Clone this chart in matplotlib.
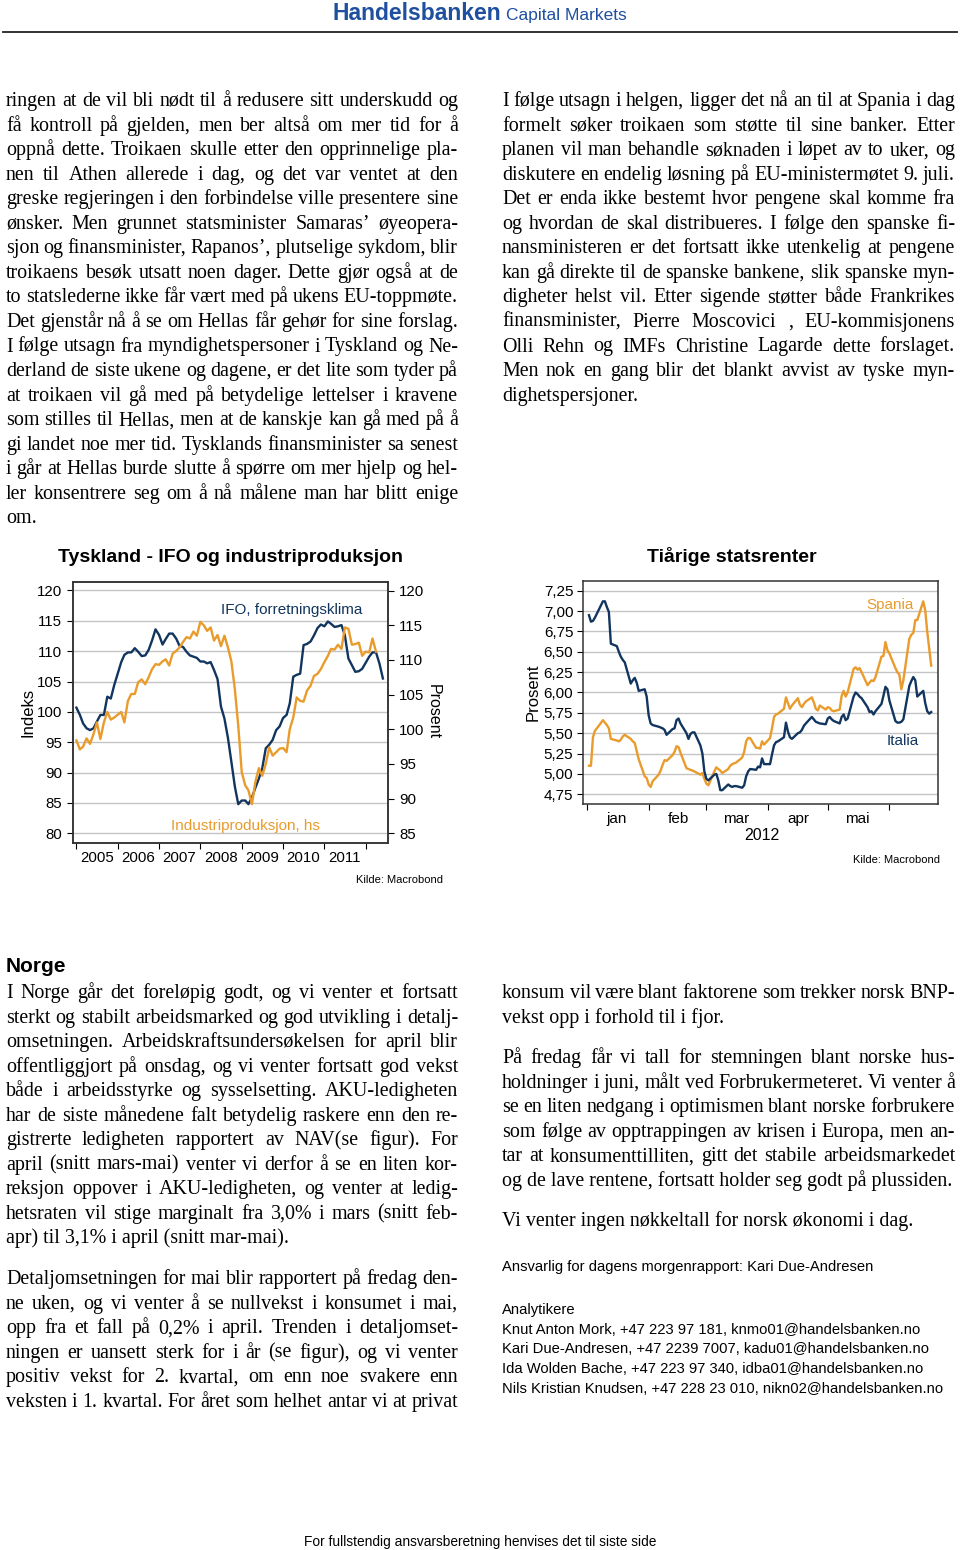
import matplotlib
matplotlib.use("Agg")
import matplotlib.pyplot as plt
from matplotlib.font_manager import FontProperties
from matplotlib.lines import Line2D
from matplotlib.ticker import NullFormatter, FixedLocator
import pandas as pd

W, H = 960, 1550
NAVY = "#11355f"
ORANGE = "#e99b2c"
GRID = "#c4c4c4"
SERIF = "Liberation Serif"
SANS = "Liberation Sans"
BODY = 14.4

plt.rcParams["font.family"] = SANS

# ---- chart 1: Tyskland, IFO (venstre akse) og industriproduksjon (hoyre akse), maanedlig fra jan 2005
ifo = [100.7, 99.5, 98.1, 97.3, 97.0, 97.3, 98.4, 99.5, 99.5, 102.5, 102.2, 104.4,
       106.3, 108.2, 109.4, 109.8, 109.8, 110.5, 109.9, 109.2, 109.3, 110.2, 111.8, 113.6,
       112.7, 111.1, 112.0, 112.9, 112.9, 112.1, 110.9, 110.7, 109.9, 109.3, 109.1, 108.9,
       108.3, 108.3, 108.0, 108.2, 106.9, 105.4, 100.9, 98.9, 95.7, 91.8, 87.7, 84.8,
       85.4, 85.4, 84.8, 85.9, 87.5, 89.0, 90.7, 94.0, 94.6, 95.4, 97.0, 97.6,
       99.0, 99.5, 101.4, 105.8, 106.1, 106.3, 111.0, 111.2, 111.6, 112.6, 113.8, 114.4,
       114.1, 114.9, 114.5, 114.0, 114.1, 114.3, 112.6, 108.8, 107.7, 106.6, 106.7, 107.1,
       108.1, 109.1, 109.8, 109.8, 108.0, 105.5]
industri = [98.4, 97.1, 97.5, 98.7, 97.9, 99.3, 101.0, 98.6, 101.0, 102.5, 101.4, 101.7,
            102.1, 102.5, 101.0, 104.1, 105.1, 105.1, 106.8, 107.2, 106.5, 107.5, 108.7, 109.4,
            109.3, 109.8, 110.1, 109.2, 110.9, 111.3, 111.8, 112.6, 113.3, 113.1, 114.1, 113.5,
            115.5, 115.0, 114.2, 114.7, 112.8, 113.6, 112.0, 113.5, 111.8, 109.8, 105.8, 100.5,
            93.8, 91.9, 91.2, 89.2, 92.4, 94.4, 93.3, 95.0, 97.4, 96.2, 96.7, 97.2,
            97.3, 96.7, 100.0, 101.7, 104.6, 104.1, 104.0, 105.6, 106.3, 107.7, 108.0, 108.7,
            109.7, 110.6, 111.6, 111.5, 112.2, 111.6, 114.7, 114.5, 112.2, 112.3, 112.5, 110.6,
            111.2, 111.1, 113.1, 111.2]
aar = ["2005", "2006", "2007", "2008", "2009", "2010", "2011"]
left_ticks = [80, 85, 90, 95, 100, 105, 110, 115, 120]
right_ticks = [85, 90, 95, 100, 105, 110, 115, 120]

# ---- chart 2: tiaarige statsrenter, virkedager 2. jan - 22. jun 2012
italia = [6.95, 6.87, 6.88, 6.92, 6.97,
          7.12, 7.12, 7.05, 6.99, 6.60,
          6.57, 6.50, 6.44, 6.40, 6.37,
          6.11, 6.15, 6.18, 6.12, 6.02,
          6.04, 5.95, 5.72, 5.62, 5.60,
          5.58, 5.57, 5.56, 5.54, 5.48,
          5.55, 5.56, 5.66, 5.68, 5.62,
          5.50, 5.43, 5.49, 5.51, 5.51,
          5.35, 5.25, 5.03, 4.94, 4.92,
          4.99, 5.00, 4.92, 4.80, 4.80,
          4.87, 4.85, 4.84, 4.85, 4.85,
          4.83, 4.86, 4.97, 5.03, 5.06,
          5.05, 5.09, 5.08, 5.19, 5.12,
          5.12, 5.24, 5.35, 5.39, 5.40,
          5.45, 5.63, 5.52, 5.45, 5.43,
          5.50, 5.51, 5.54, 5.59, 5.62,
          5.70, 5.67, 5.64, 5.63, 5.62,
          5.61, 5.68, 5.70, 5.67, 5.65,
          5.62, 5.70, 5.73, 5.66, 5.68,
          5.95, 6.00, 5.98, 5.95, 5.93,
          5.82, 5.76, 5.77, 5.73, 5.77,
          5.86, 5.96, 6.07, 6.04, 5.90,
          5.65, 5.63, 5.63, 5.64, 5.67,
          6.08, 6.14, 6.19, 6.15, 5.95,
          6.02, 5.87, 5.77, 5.74, 5.76]
spania = [5.10, 5.10, 5.45, 5.53, 5.56,
          5.66, 5.63, 5.60, 5.56, 5.43,
          5.41, 5.40, 5.42, 5.46, 5.48,
          5.43, 5.40, 5.38, 5.28, 5.18,
          4.97, 4.95, 4.87, 4.84, 4.91,
          4.99, 5.04, 5.11, 5.17, 5.16,
          5.23, 5.27, 5.34, 5.33, 5.26,
          5.07, 5.06, 5.05, 5.04, 5.03,
          4.99, 5.01, 4.94, 4.88, 4.86,
          5.03, 5.08, 5.06, 5.04, 5.01,
          5.06, 5.10, 5.12, 5.13, 5.14,
          5.20, 5.27, 5.40, 5.44, 5.44,
          5.32, 5.32, 5.31, 5.40, 5.36,
          5.44, 5.56, 5.70, 5.73, 5.74,
          5.80, 5.94, 5.87, 5.80, 5.84,
          5.93, 5.85, 5.82, 5.86, 5.89,
          5.94, 5.88, 5.80, 5.78, 5.84,
          5.79, 5.82, 5.81, 5.78, 5.77,
          5.79, 5.96, 6.02, 5.95, 6.00,
          6.29, 6.31, 6.28, 6.30, 6.25,
          6.09, 6.12, 6.15, 6.14, 6.19,
          6.44, 6.45, 6.62, 6.52, 6.48,
          6.30, 6.25, 6.22, 6.04, 6.15,
          6.66, 6.71, 6.73, 6.89, 6.89,
          7.12, 7.01, 6.75, 6.54, 6.33]
maaneder = ["jan", "feb", "mar", "apr", "mai"]
rente_ticks = [4.75, 5.00, 5.25, 5.50, 5.75, 6.00, 6.25, 6.50, 6.75, 7.00, 7.25]

# ---- tekst
left_top = [
    "ringen at de vil bli nødt til å redusere sitt underskudd og",
    "få kontroll på gjelden, men ber altså om mer tid for å",
    "oppnå dette. Troikaen skulle etter den opprinnelige pla-",
    "nen til Athen allerede i dag, og det var ventet at den",
    "greske regjeringen i den forbindelse ville presentere sine",
    "ønsker. Men grunnet statsminister Samaras’ øyeopera-",
    "sjon og finansminister, Rapanos’, plutselige sykdom, blir",
    "troikaens besøk utsatt noen dager.  Dette gjør også at de",
    "to statslederne ikke får vært med på ukens EU-toppmøte.",
    "Det gjenstår nå å se om Hellas får gehør for sine forslag.",
    "I følge utsagn fra myndighetspersoner i Tyskland og Ne-",
    "derland de siste ukene og dagene, er det lite som tyder på",
    "at troikaen vil gå med på betydelige lettelser i kravene",
    "som stilles til Hellas, men at de kanskje kan gå med på å",
    "gi landet noe mer tid. Tysklands finansminister sa senest",
    "i går at Hellas burde slutte å spørre om mer hjelp og hel-",
    "ler konsentrere seg om å nå målene man har blitt enige",
    "om.",
]
right_top = [
    "I følge utsagn i helgen, ligger det nå an til at Spania i dag",
    "formelt søker troikaen som støtte til sine banker. Etter",
    "planen vil man behandle søknaden i løpet av to uker, og",
    "diskutere en endelig løsning på EU-ministermøtet 9. juli.",
    "Det er enda ikke bestemt hvor pengene skal komme fra",
    "og hvordan de skal distribueres. I følge den spanske fi-",
    "nansministeren er det fortsatt ikke utenkelig at pengene",
    "kan gå direkte til de spanske bankene, slik spanske myn-",
    "digheter helst vil. Etter sigende støtter både Frankrikes",
    "finansminister, Pierre Moscovici , EU-kommisjonens",
    "Olli Rehn og IMFs Christine Lagarde dette forslaget.",
    "Men nok en gang blir det blankt avvist av tyske myn-",
    "dighetspersjoner.",
]
norge_1 = [
    "I Norge går det foreløpig godt, og vi venter et fortsatt",
    "sterkt og stabilt arbeidsmarked og god utvikling i detalj-",
    "omsetningen. Arbeidskraftsundersøkelsen for april blir",
    "offentliggjort på onsdag, og vi venter fortsatt god vekst",
    "både i arbeidsstyrke og sysselsetting. AKU-ledigheten",
    "har de siste månedene falt betydelig raskere enn den re-",
    "gistrerte ledigheten rapportert av NAV(se figur). For",
    "april (snitt mars-mai) venter vi derfor å se en liten kor-",
    "reksjon oppover i AKU-ledigheten, og venter at ledig-",
    "hetsraten vil stige marginalt fra 3,0% i mars (snitt feb-",
    "apr) til 3,1% i april (snitt mar-mai).",
]
norge_2 = [
    "Detaljomsetningen for mai blir rapportert på fredag den-",
    "ne uken, og vi venter å se nullvekst i konsumet i mai,",
    "opp fra et fall på 0,2% i april. Trenden i detaljomset-",
    "ningen er uansett sterk for i år (se figur), og vi venter",
    "positiv vekst for 2. kvartal, om enn noe svakere enn",
    "veksten i 1. kvartal. For året som helhet antar vi at privat",
]
right_1 = [
    "konsum vil være blant faktorene som trekker norsk BNP-",
    "vekst opp i forhold til i fjor.",
]
right_2 = [
    "På fredag får vi tall for stemningen blant norske hus-",
    "holdninger i juni, målt ved Forbrukermeteret. Vi venter å",
    "se en liten nedgang i optimismen blant norske forbrukere",
    "som følge av opptrappingen av krisen i Europa, men an-",
    "tar at konsumenttilliten, gitt det stabile arbeidsmarkedet",
    "og de lave rentene, fortsatt holder seg godt på plussiden.",
]
right_3 = ["Vi venter ingen nøkkeltall for norsk økonomi i dag."]
kontakt = [
    "Analytikere",
    "Knut Anton Mork, +47 223 97 181, knmo01@handelsbanken.no",
    "Kari Due-Andresen, +47 2239 7007, kadu01@handelsbanken.no",
    "Ida Wolden Bache, +47 223 97 340, idba01@handelsbanken.no",
    "Nils Kristian Knudsen, +47 228 23 010, nikn02@handelsbanken.no",
]

fig = plt.figure(figsize=(W / 100, H / 100), dpi=100)
renderer = fig.canvas.get_renderer()
body_fp = FontProperties(family=SERIF, size=BODY)


def fx(x):
    return x / W


def fy(y):
    return 1 - y / H


def put(x, y, s, size, family=SANS, **kw):
    return fig.text(fx(x), fy(y), s, fontsize=size, family=family, **kw)


def paragraph(lines, x0, y0, width, lh=24.55, last=True):
    # justert tekst: hvert ord plasseres for seg
    for k, line in enumerate(lines):
        y = y0 + k * lh
        words = line.split()
        if (last and k == len(lines) - 1) or len(words) < 2:
            put(x0, y, line, BODY, SERIF, va="baseline")
            continue
        ws = [renderer.get_text_width_height_descent(w, body_fp, ismath=False)[0] for w in words]
        gap = (width - sum(ws)) / (len(words) - 1)
        x = x0
        for w, ww in zip(words, ws):
            put(x, y, w, BODY, SERIF, va="baseline")
            x += ww + gap


# header
put(333, 20, "Handelsbanken", 16.5, weight="bold", color="#1f4f9f", va="baseline")
put(506, 20, "Capital Markets", 12.5, color="#1f4f9f", va="baseline")
fig.add_artist(Line2D([fx(3), fx(957)], [fy(32), fy(32)], color="#222222", lw=1.3))

paragraph(left_top, 6, 106, 452)
paragraph(right_top, 502, 106, 453)
put(6, 972, "Norge", 15, weight="bold", va="baseline")
paragraph(norge_1, 6, 998, 452)
paragraph(norge_2, 6, 1284, 452, last=False)
paragraph(right_1, 502, 998, 453)
paragraph(right_2, 502, 1063, 453)
paragraph(right_3, 502, 1226, 453)

put(502, 1271, "Ansvarlig for dagens morgenrapport: Kari Due-Andresen", 10.6, va="baseline")
for k, line in enumerate(kontakt):
    put(502, 1314 + k * 19.7, line, 10.6, va="baseline")
put(480, 1546, "For fullstendig ansvarsberetning henvises det til siste side", 9.9,
    ha="center", va="baseline")

# ---- chart 1
ifo_dates = pd.date_range("2005-01-01", periods=len(ifo), freq="MS")
ip_dates = pd.date_range("2005-01-01", periods=len(industri), freq="MS")

ax1 = fig.add_axes([fx(73), fy(843), (388 - 73) / W, (843 - 582) / H])
ax1.plot(ifo_dates, ifo, color=NAVY, lw=1.7)
ax1.set_ylim(78.4, 121.4)
ax1.set_yticks(left_ticks)
ax1.grid(axis="y", color=GRID, lw=1)
ax1.set_axisbelow(True)
ax1.set_xlim(pd.Timestamp("2004-12-02"), pd.Timestamp("2012-07-16"))
ax1.xaxis.set_major_locator(FixedLocator(
    [matplotlib.dates.date2num(pd.Timestamp(f"{y}-01-01")) for y in range(2005, 2013)]))
ax1.xaxis.set_major_formatter(NullFormatter())
ax1.set_xticks([pd.Timestamp(f"{a}-07-01") for a in aar], minor=True)
ax1.set_xticklabels(aar, minor=True)
ax1.tick_params(axis="x", which="minor", length=0, pad=6, labelsize=10.8)
ax1.tick_params(axis="x", which="major", length=4, direction="out")
ax1.tick_params(axis="y", length=4, pad=4, labelsize=10.8)

axr = ax1.twinx()
axr.plot(ip_dates, industri, color=ORANGE, lw=1.7)
axr.set_ylim(83.6, 121.25)
axr.set_yticks(right_ticks)
axr.tick_params(axis="y", length=4, pad=4, labelsize=10.8)
for a in (ax1, axr):
    for sp in a.spines.values():
        sp.set_color("#333333")
        sp.set_linewidth(1.1)

put(231, 557, "Tyskland - IFO og industriproduksjon", 14, weight="bold", ha="center", va="center")
put(221, 610, "IFO, forretningsklima", 11, color=NAVY, va="center")
put(171, 826, "Industriproduksjon, hs", 11, color=ORANGE, va="center")
put(28, 712, "Indeks", 12, rotation=90, ha="center", va="center")
put(433, 712, "Prosent", 11.5, rotation=270, ha="center", va="center")
put(443, 880, "Kilde: Macrobond", 8, ha="right", va="center")

# ---- chart 2
bond_dates = pd.bdate_range("2012-01-02", periods=len(italia))

ax2 = fig.add_axes([fx(583), fy(804), (938 - 583) / W, (804 - 581) / H])
ax2.plot(bond_dates, spania, color=ORANGE, lw=1.7)
ax2.plot(bond_dates, italia, color=NAVY, lw=1.7)
ax2.set_ylim(4.63, 7.37)
ax2.set_yticks(rente_ticks)
ax2.set_yticklabels([f"{v:.2f}".replace(".", ",") for v in rente_ticks])
ax2.grid(axis="y", color=GRID, lw=1)
ax2.set_axisbelow(True)
ax2.set_xlim(pd.Timestamp("2011-12-30"), pd.Timestamp("2012-06-25 10:00"))
ax2.set_xticks([pd.Timestamp(f"2012-{m:02d}-01") for m in range(1, 7)])
ax2.xaxis.set_major_formatter(NullFormatter())
ax2.set_xticks([pd.Timestamp(f"2012-{m:02d}-16") for m in range(1, 6)], minor=True)
ax2.set_xticklabels(maaneder, minor=True)
ax2.tick_params(axis="x", which="minor", length=0, pad=6, labelsize=11)
ax2.tick_params(axis="x", which="major", length=4, direction="out")
ax2.tick_params(axis="y", length=4, pad=3, labelsize=11)
for sp in ax2.spines.values():
    sp.set_color("#333333")
    sp.set_linewidth(1.1)

put(732, 557, "Tiårige statsrenter", 14, weight="bold", ha="center", va="center")
put(866, 605, "Spania", 11, color=ORANGE, va="center")
put(887, 741, "Italia", 11, color=NAVY, va="center")
put(762, 836, "2012", 11.5, ha="center", va="center")
put(533, 692, "Prosent", 12, rotation=90, ha="center", va="center")
put(940, 860, "Kilde: Macrobond", 8, ha="right", va="center")

fig.savefig("out.png", dpi=100)
